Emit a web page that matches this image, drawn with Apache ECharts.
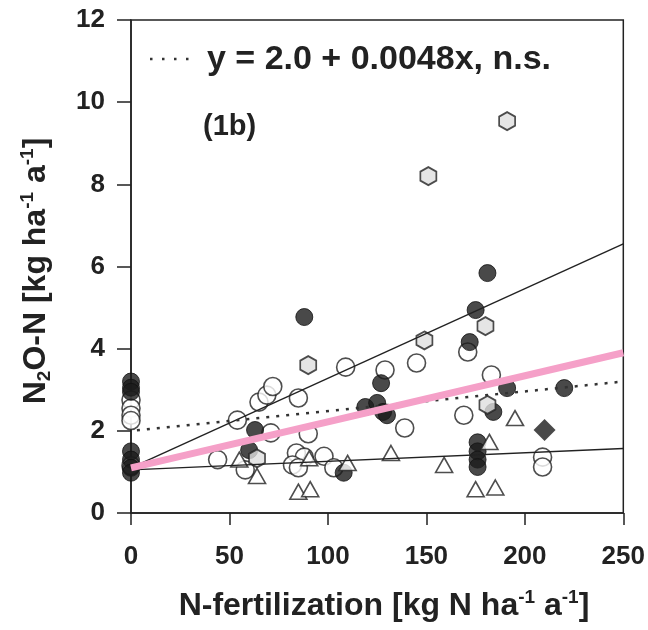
<!DOCTYPE html>
<html>
<head>
<meta charset="utf-8">
<script src="https://cdn.jsdelivr.net/npm/echarts@6/dist/echarts.min.js"></script>
<style>html,body{margin:0;padding:0;background:#fff}#c{width:648px;height:630px}</style>
</head>
<body>
<div id="c"></div>
<script>
// ---- data ----
const xTicks = [0, 50, 100, 150, 200, 250];
const yTicks = [0, 2, 4, 6, 8, 10, 12];
const openCircles = [[0,2.75],[0,2.55],[0,2.38],[0,2.25],[0,1.15],
  [44,1.3],[54,2.26],[58,1.05],[65,2.7],[69,2.87],[72,3.08],[71,1.95],
  [84,1.46],[88,1.36],[82,1.17],[85,1.1],[85,2.8],[90,1.93],[98,1.38],[103,1.1],[109,3.55],
  [129,3.48],[139,2.07],[145,3.65],[169,2.38],[171,3.92],[183,3.36],[209,1.36],[209,1.12]];
const filledCircles = [[0,3.2],[0,3.05],[0,2.95],[0,1.5],[0,1.3],[0,1.1],[0,0.98],
  [60,1.53],[63,2.02],[88,4.77],[108,0.98],
  [119,2.58],[125,2.68],[127,3.16],[128,2.46],[130,2.38],
  [172,4.16],[175,4.94],[176,1.72],[176,1.5],[176,1.3],[176,1.12],[181,5.84],[184,2.46],[191,3.04],[220,3.04]];
const triangles = [[55,1.3],[64,0.9],[85,0.52],[91,0.58],[90.5,1.33],[110,1.22],[132,1.46],[159,1.17],[175,0.58],[182,1.73],[185,0.62],[195,2.31]];
const hexagons = [[151,8.2],[191,9.54],[149,4.2],[180,4.55],[90,3.6],[181,2.63],[64,1.33]];
const diamonds = [[210,2.02]];
const fitUpper = [[0,1.1],[250,6.55]];
const fitLower = [[0,1.05],[250,1.57]];
const fitDotted = [[3,2.0144],[250,3.2]];
const fitPink = [[0,1.1],[250,3.9]];
const legendText = 'y = 2.0 + 0.0048x, n.s.';
const panelLabel = '(1b)';

const FF = '"Liberation Sans", Arial, sans-serif';
const chart = echarts.init(document.getElementById('c'));
const hexPath = 'path://M0,-10 L8.66,-5 L8.66,5 L0,10 L-8.66,5 L-8.66,-5 Z';
const base = {type:'scatter', silent:true};
chart.setOption({
  animation:false,
  grid:{left:131, right:23, top:20, bottom:117, show:true, borderColor:'#222', borderWidth:1.5, backgroundColor:'transparent'},
  xAxis:{type:'value', min:0, max:250, interval:50,
    axisLine:{lineStyle:{color:'#222', width:1.5}},
    axisTick:{inside:false, length:12, lineStyle:{color:'#222', width:1.5}},
    splitLine:{show:false},
    axisLabel:{margin:31, fontSize:26, fontWeight:'bold', fontFamily:FF, color:'#222',
      formatter:v=>xTicks.includes(v)?String(v):''}},
  yAxis:{type:'value', min:0, max:12, interval:2,
    axisLine:{lineStyle:{color:'#222', width:1.5}},
    axisTick:{inside:false, length:14, lineStyle:{color:'#222', width:1.5}},
    splitLine:{show:false},
    axisLabel:{margin:26, fontSize:26, fontWeight:'bold', fontFamily:FF, color:'#222',
      formatter:v=>yTicks.includes(v)?String(v):''}},
  series:[
    Object.assign({}, base, {data:openCircles, symbol:'circle', symbolSize:18, z:2,
      itemStyle:{color:'#fff', borderColor:'#222', borderWidth:1.6}}),
    Object.assign({}, base, {data:filledCircles, symbol:'circle', symbolSize:17, z:3,
      itemStyle:{color:'#1c1c1c', borderColor:'#111', borderWidth:1}}),
    Object.assign({}, base, {data:triangles, symbol:'triangle', symbolSize:[17,15], z:3,
      itemStyle:{color:'#fff', borderColor:'#222', borderWidth:1.6}}),
    Object.assign({}, base, {data:hexagons, symbol:hexPath, symbolSize:[16,18], z:3,
      itemStyle:{color:'#dedede', borderColor:'#222', borderWidth:1.8}}),
    Object.assign({}, base, {data:diamonds, symbol:'diamond', symbolSize:[22,22], z:3,
      itemStyle:{color:'#1c1c1c'}}),
    {type:'line', data:fitUpper, symbol:'none', z:5, silent:true, lineStyle:{color:'#222', width:1.4}},
    {type:'line', data:fitLower, symbol:'none', z:5, silent:true, lineStyle:{color:'#222', width:1.4}},
    {type:'line', data:fitDotted, symbol:'none', z:5, silent:true, lineStyle:{color:'#333', width:2.5, type:[3,7]}},
    {type:'line', data:fitPink, symbol:'none', z:6, silent:true, lineStyle:{color:'#f5a0c8', width:7, cap:'butt'}}
  ],
  graphic:[
    {type:'line', shape:{x1:150, y1:59, x2:190, y2:59}, style:{stroke:'#333', lineWidth:2.5, lineDash:[2.5,9.5]}},
    {type:'text', x:207, y:60, style:{text:legendText, font:'bold 34px '+FF, fill:'#222', verticalAlign:'middle', align:'left'}},
    {type:'text', x:203, y:127, style:{text:panelLabel, font:'bold 29px '+FF, fill:'#222', verticalAlign:'middle', align:'left'}},
    {type:'text', x:384, y:606, style:{
      text:'{a|N-fertilization [kg N ha}{s|-1}{a| a}{s|-1}{a|]}', align:'center', verticalAlign:'middle',
      rich:{a:{fontSize:32, fontWeight:'bold', fontFamily:FF, fill:'#222', lineHeight:36},
            s:{fontSize:19, fontWeight:'bold', fontFamily:FF, fill:'#222', verticalAlign:'top', lineHeight:36}}}},
    {type:'text', x:36, y:271, rotation:Math.PI/2, style:{
      text:'{a|N}{b|2}{a|O-N [kg ha}{s|-1}{a| a}{s|-1}{a|]}', align:'center', verticalAlign:'middle',
      rich:{a:{fontSize:32, fontWeight:'bold', fontFamily:FF, fill:'#222', lineHeight:36},
            b:{fontSize:19, fontWeight:'bold', fontFamily:FF, fill:'#222', verticalAlign:'bottom', lineHeight:36},
            s:{fontSize:19, fontWeight:'bold', fontFamily:FF, fill:'#222', verticalAlign:'top', lineHeight:36}}}}
  ]
});
</script>
</body>
</html>
